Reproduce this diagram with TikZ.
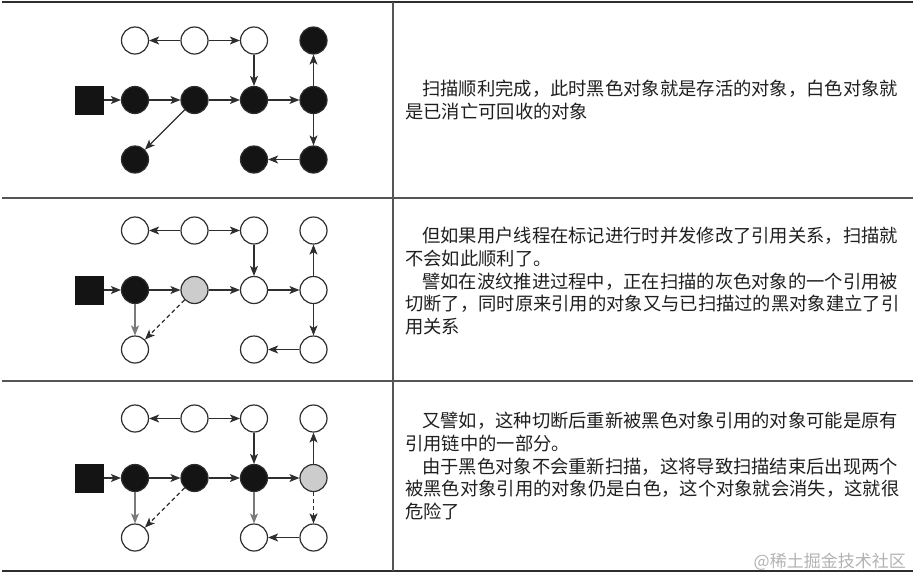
\documentclass[tikz,border=0pt]{standalone}
\usepackage{fontspec}
\usepackage{xcolor}
\newfontfamily\cjk{Noto Sans CJK SC}
\usetikzlibrary{arrows.meta, positioning}
\definecolor{inkgray}{HTML}{2E2E2E}
\definecolor{rulegray}{HTML}{555555}
\definecolor{oldgray}{HTML}{7A7A7A}

\begin{document}
\begin{tikzpicture}[x=1pt, y=-1pt, node distance=59.5pt, on grid,
    obj/.style={circle, draw=inkgray, line width=1.2pt, minimum size=27pt, inner sep=0pt, fill=white},
    blackobj/.style={obj, fill=black!92},
    grayobj/.style={obj, fill=black!20},
    rootbox/.style={rectangle, fill=black!92, minimum size=29pt, inner sep=0pt},
    ref/.style={-{Stealth[length=10pt, width=8pt, inset=2.5pt]}, line width=1.2pt, draw=inkgray},
    oldref/.style={ref, draw=oldgray},
    cutref/.style={ref, dashed, dash pattern=on 4pt off 3pt},
    celltext/.style={anchor=north west, inner sep=0pt, align=left, text width=500pt, text=black!88,
      font=\cjk\fontsize{18.3}{22.7}\selectfont}]
    \useasboundingbox (0,0) rectangle (916,574);

    % table rules
    \draw[line width=2pt, inkgray] (2,1.5) -- (913,1.5);
    \draw[line width=1.5pt, rulegray] (2,198) -- (913,198);
    \draw[line width=1.5pt, rulegray] (2,381) -- (913,381);
    \draw[line width=2.5pt, inkgray] (2,571) -- (913,571);
    \draw[line width=1.5pt, rulegray] (393,1.5) -- (393,571);

    % first row: scan finished
    \node[rootbox] (a-root) at (89,100) {};
    \node[blackobj, right=46pt of a-root] (a-m1) {};
    \node[blackobj, right=of a-m1] (a-m2) {};
    \node[blackobj, right=of a-m2] (a-m3) {};
    \node[blackobj, right=of a-m3] (a-m4) {};
    \node[obj, above=of a-m1] (a-t1) {};
    \node[obj, above=of a-m2] (a-t2) {};
    \node[obj, above=of a-m3] (a-t3) {};
    \node[blackobj, above=of a-m4] (a-t4) {};
    \node[blackobj, below=of a-m1] (a-b1) {};
    \node[blackobj, below=of a-m3] (a-b3) {};
    \node[blackobj, below=of a-m4] (a-b4) {};
    \draw[ref] (a-root) -- (a-m1);
    \draw[ref] (a-m1) -- (a-m2);
    \draw[ref] (a-m2) -- (a-m3);
    \draw[ref] (a-m3) -- (a-m4);
    \draw[ref] (a-t2) -- (a-t1);
    \draw[ref] (a-t2) -- (a-t3);
    \draw[ref] (a-t3) -- (a-m3);
    \draw[ref] (a-m4) -- (a-t4);
    \draw[ref] (a-m4) -- (a-b4);
    \draw[ref] (a-b4) -- (a-b3);
    \draw[ref] (a-m2) -- (a-b1);
    \node[celltext] (a-text) at (405,80) {\hspace*{17pt}扫描顺利完成，此时黑色对象就是存活的对象，白色对象就\\
      是已消亡可回收的对象};

    % second row: one reference cut
    \node[rootbox] (b-root) at (89,290) {};
    \node[blackobj, right=46pt of b-root] (b-m1) {};
    \node[grayobj, right=of b-m1] (b-m2) {};
    \node[obj, right=of b-m2] (b-m3) {};
    \node[obj, right=of b-m3] (b-m4) {};
    \node[obj, above=of b-m1] (b-t1) {};
    \node[obj, above=of b-m2] (b-t2) {};
    \node[obj, above=of b-m3] (b-t3) {};
    \node[obj, above=of b-m4] (b-t4) {};
    \node[obj, below=of b-m1] (b-b1) {};
    \node[obj, below=of b-m3] (b-b3) {};
    \node[obj, below=of b-m4] (b-b4) {};
    \draw[ref] (b-root) -- (b-m1);
    \draw[ref] (b-m1) -- (b-m2);
    \draw[ref] (b-m2) -- (b-m3);
    \draw[ref] (b-m3) -- (b-m4);
    \draw[ref] (b-t2) -- (b-t1);
    \draw[ref] (b-t2) -- (b-t3);
    \draw[ref] (b-t3) -- (b-m3);
    \draw[ref] (b-m4) -- (b-t4);
    \draw[ref] (b-m4) -- (b-b4);
    \draw[ref] (b-b4) -- (b-b3);
    \draw[oldref] (b-m1) -- (b-b1);
    \draw[cutref] (b-m2) -- (b-b1);
    \node[celltext] (b-text) at (405,227) {\hspace*{17pt}但如果用户线程在标记进行时并发修改了引用关系，扫描就\\
      不会如此顺利了。\\
      \hspace*{17pt}譬如在波纹推进过程中，正在扫描的灰色对象的一个引用被\\
      切断了，同时原来引用的对象又与已扫描过的黑对象建立了引\\
      用关系};

    % third row: part of the chain lost
    \node[rootbox] (c-root) at (89,478) {};
    \node[blackobj, right=46pt of c-root] (c-m1) {};
    \node[blackobj, right=of c-m1] (c-m2) {};
    \node[blackobj, right=of c-m2] (c-m3) {};
    \node[grayobj, right=of c-m3] (c-m4) {};
    \node[obj, above=of c-m1] (c-t1) {};
    \node[obj, above=of c-m2] (c-t2) {};
    \node[obj, above=of c-m3] (c-t3) {};
    \node[obj, above=of c-m4] (c-t4) {};
    \node[obj, below=of c-m1] (c-b1) {};
    \node[obj, below=of c-m3] (c-b3) {};
    \node[obj, below=of c-m4] (c-b4) {};
    \draw[ref] (c-root) -- (c-m1);
    \draw[ref] (c-m1) -- (c-m2);
    \draw[ref] (c-m2) -- (c-m3);
    \draw[ref] (c-m3) -- (c-m4);
    \draw[ref] (c-t2) -- (c-t1);
    \draw[ref] (c-t2) -- (c-t3);
    \draw[ref] (c-t3) -- (c-m3);
    \draw[ref] (c-m4) -- (c-t4);
    \draw[cutref] (c-m4) -- (c-b4);
    \draw[ref] (c-b4) -- (c-b3);
    \draw[oldref] (c-m1) -- (c-b1);
    \draw[cutref] (c-m2) -- (c-b1);
    \draw[oldref] (c-m3) -- (c-b3);
    \node[celltext] (c-text) at (405,412) {\hspace*{17pt}又譬如，这种切断后重新被黑色对象引用的对象可能是原有\\
      引用链中的一部分。\\
      \hspace*{17pt}由于黑色对象不会重新扫描，这将导致扫描结束后出现两个\\
      被黑色对象引用的对象仍是白色，这个对象就会消失，这就很\\
      危险了};

    \node[anchor=east, inner sep=0pt, text=black!30, font=\cjk\fontsize{17}{20}\selectfont] (mark) at (906,562) {@稀土掘金技术社区};
  \end{tikzpicture}
\end{document}
